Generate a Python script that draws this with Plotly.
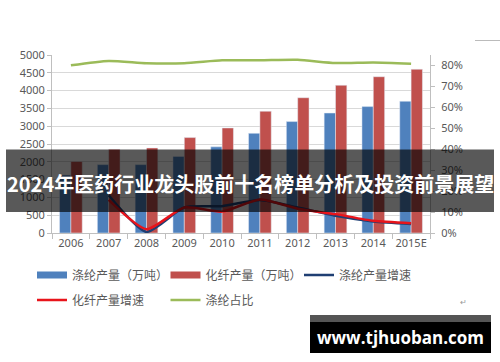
import plotly.graph_objects as go

# ---- data ----
years = ['2006', '2007', '2008', '2009', '2010', '2011', '2012', '2013', '2014', '2015E']
polyester_output = [1630, 1920, 1920, 2150, 2420, 2800, 3130, 3370, 3550, 3700]      # 涤纶产量（万吨）
fiber_output = [2010, 2350, 2390, 2680, 2950, 3420, 3800, 4150, 4390, 4600]          # 化纤产量（万吨）
polyester_growth = [None, 0.18, 0.005, 0.122, 0.128, 0.158, 0.122, 0.082, 0.055, 0.043]  # 涤纶产量增速
fiber_growth = [None, 0.158, 0.018, 0.122, 0.102, 0.16, 0.116, 0.09, 0.058, 0.047]       # 化纤产量增速
polyester_share = [0.800, 0.821, 0.810, 0.810, 0.824, 0.824, 0.826, 0.811, 0.814, 0.808]  # 涤纶占比
pct_ticks = [0, 0.1, 0.2, 0.3, 0.4, 0.5, 0.6, 0.7, 0.8]

names = ['涤纶产量（万吨）', '化纤产量（万吨）', '涤纶产量增速', '化纤产量增速', '涤纶占比']
banner_text = '2024年医药行业龙头股前十名榜单分析及投资前景展望'
watermark_text = 'www.tjhuoban.com'

BLUE, RED, NAVY, BRIGHT_RED, GREEN = '#4F81BD', '#C0504D', '#1F3F73', '#E8141B', '#9BBB59'
GRAY_TXT = '#595959'

# plot-area geometry in pixels
W, H = 500, 362
PL, PR, PT, PB = 52, 430, 55, 233


def px(x):
    return (x - PL) / (PR - PL)


def py(y):
    return (PB - y) / (PB - PT)


fig = go.Figure()

# bars
fig.add_trace(go.Bar(x=years, y=polyester_output, marker_color=BLUE, name=names[0],
                     showlegend=False, yaxis='y'))
fig.add_trace(go.Bar(x=years, y=fiber_output, marker_color=RED, name=names[1],
                     showlegend=False, yaxis='y'))

# legend swatches for the bars (wide rectangles like the original)
fig.add_trace(go.Scatter(x=[None], y=[None], mode='lines', line=dict(color=BLUE, width=7),
                         name=names[0], legend='legend'))
fig.add_trace(go.Scatter(x=[None], y=[None], mode='lines', line=dict(color=RED, width=7),
                         name=names[1], legend='legend'))

# lines on the percentage axis
fig.add_trace(go.Scatter(x=years, y=polyester_growth, mode='lines', yaxis='y2',
                         line=dict(color=NAVY, width=2.5, shape='spline', smoothing=0.6),
                         name=names[2], legend='legend'))
fig.add_trace(go.Scatter(x=years, y=fiber_growth, mode='lines', yaxis='y2',
                         line=dict(color=BRIGHT_RED, width=2.5, shape='spline', smoothing=0.6),
                         name=names[3], legend='legend2'))
fig.add_trace(go.Scatter(x=years, y=polyester_share, mode='lines', yaxis='y2',
                         line=dict(color=GREEN, width=2.5, shape='spline', smoothing=0.6),
                         name=names[4], legend='legend2'))

tick_font = dict(family='Noto Sans, sans-serif', size=11, color=GRAY_TXT)
leg_font = dict(family='Noto Sans CJK SC, sans-serif', size=12, color=GRAY_TXT)

fig.update_layout(
    width=W, height=H,
    margin=dict(l=PL, r=W - PR, t=PT, b=H - PB, autoexpand=False),
    paper_bgcolor='white', plot_bgcolor='white',
    barmode='group', bargap=0.4, bargroupgap=0,
    xaxis=dict(type='category', showline=True, linecolor='#bfbfbf', linewidth=1,
               ticks='outside', tickson='boundaries', ticklen=5, tickcolor='#bfbfbf',
               tickfont=tick_font, tickangle=0, showgrid=False),
    yaxis=dict(range=[0, 5000], dtick=500, showline=True, linecolor='#bfbfbf',
               ticks='outside', ticklen=4, tickcolor='#bfbfbf', tickfont=tick_font,
               showgrid=True, gridcolor='#d9d9d9', zeroline=False),
    yaxis2=dict(overlaying='y', side='right', range=[0, (PB - PT) / 209.6],
                tickvals=pct_ticks, tickformat='.0%', showline=True, linecolor='#bfbfbf',
                ticks='outside', ticklen=4, tickcolor='#bfbfbf', tickfont=tick_font,
                showgrid=False, zeroline=False, ticklabelstandoff=4),
    legend=dict(orientation='h', x=px(32), xanchor='left', y=py(275), yanchor='middle',
                entrywidth=88.5, entrywidthmode='pixels', font=leg_font,
                bgcolor='rgba(0,0,0,0)', traceorder='normal'),
    legend2=dict(orientation='h', x=px(32), xanchor='left', y=py(300), yanchor='middle',
                 entrywidth=88.5, entrywidthmode='pixels', font=leg_font,
                 bgcolor='rgba(0,0,0,0)', traceorder='normal'),
    showlegend=True,
)

# overlay banner across the middle
fig.add_shape(type='rect', xref='paper', yref='paper',
              x0=px(6), x1=px(494), y0=py(212), y1=py(149.5),
              fillcolor='rgba(0,0,0,0.65)', line=dict(width=0), layer='above')
fig.add_annotation(xref='paper', yref='paper', x=px(250), y=py(183.5), showarrow=False,
                   text='<b>' + banner_text + '</b>',
                   font=dict(family='Noto Sans CJK SC, sans-serif', size=20, color='white'),
                   xanchor='center', yanchor='middle')

# watermark box
fig.add_shape(type='rect', xref='paper', yref='paper',
              x0=px(310), x1=px(491), y0=py(322), y1=py(315),
              fillcolor='#555555', line=dict(width=0), layer='above')
fig.add_shape(type='rect', xref='paper', yref='paper',
              x0=px(310), x1=px(491), y0=py(353), y1=py(322),
              fillcolor='black', line=dict(width=0), layer='above')
fig.add_annotation(xref='paper', yref='paper', x=px(400), y=py(337), showarrow=False,
                   text='<b>' + watermark_text + '</b>',
                   font=dict(family='Open Sans, sans-serif', size=17, color='white'),
                   xanchor='center', yanchor='middle')

# small artefacts of the original screenshot
fig.add_annotation(xref='paper', yref='paper', x=px(469), y=py(309), showarrow=False,
                   text='↵', font=dict(size=8, color='#999999'))
fig.add_shape(type='line', xref='paper', yref='paper', x0=px(475), x1=px(500),
              y0=py(40.5), y1=py(40.5), line=dict(color='#bbbbbb', width=1))

fig.write_html('out.html', config={'displayModeBar': False},
               post_script="document.body.style.margin='0px';document.body.style.padding='0px';")
